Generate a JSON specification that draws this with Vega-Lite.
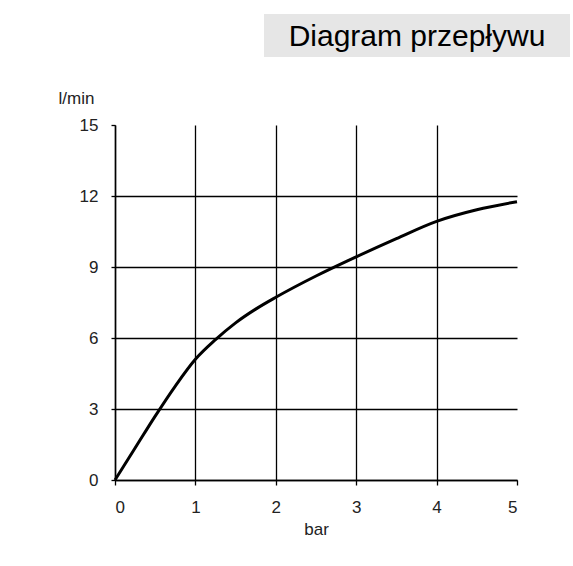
{
  "$schema": "https://vega.github.io/schema/vega-lite/v6.json",
  "padding": {"left": 58, "top": 14, "right": 0, "bottom": 0},
  "background": "white",
  "spacing": 32,
  "config": {
    "view": {"stroke": null},
    "font": "Liberation Sans",
    "concat": {"spacing": 0}
  },
  "vconcat": [
    {
      "spacing": 0,
      "hconcat": [
        {
          "width": 149,
          "height": 43,
          "data": {"values": []},
          "mark": "text"
        },
        {
          "width": 306,
          "height": 43,
          "view": {"fill": "#e6e6e6", "stroke": null},
          "data": {"values": [{"label": "Diagram przepływu"}]},
          "mark": {"type": "text", "fontSize": 30, "font": "Liberation Sans", "color": "black", "align": "center", "baseline": "middle", "dy": 1},
          "encoding": {"text": {"field": "label", "type": "nominal"}}
        }
      ]
    },
    {
      "width": 402,
      "height": 355,
      "data": {
        "values": [
          {"bar": 0, "flow": 0},
          {"bar": 0.25, "flow": 1.35},
          {"bar": 0.5, "flow": 2.7},
          {"bar": 0.75, "flow": 3.97},
          {"bar": 1, "flow": 5.1},
          {"bar": 1.25, "flow": 5.93},
          {"bar": 1.5, "flow": 6.64},
          {"bar": 1.75, "flow": 7.22},
          {"bar": 2, "flow": 7.72},
          {"bar": 2.5, "flow": 8.62},
          {"bar": 3, "flow": 9.43},
          {"bar": 3.5, "flow": 10.2},
          {"bar": 4, "flow": 10.93},
          {"bar": 4.5, "flow": 11.42},
          {"bar": 5, "flow": 11.76}
        ]
      },
      "mark": {"type": "line", "interpolate": "monotone", "color": "black", "strokeWidth": 3},
      "encoding": {
        "x": {
          "field": "bar",
          "type": "quantitative",
          "scale": {"domain": [0, 5], "nice": false},
          "axis": {
            "values": [0, 1, 2, 3, 4, 5],
            "title": "bar",
            "grid": true,
            "gridColor": "black",
            "gridWidth": 1.3,
            "gridOpacity": {"condition": {"test": "datum.value == 5", "value": 0}, "value": 1},
            "domainColor": "black",
            "domainWidth": 1.5,
            "tickColor": "black",
            "tickSize": 5,
            "tickWidth": 1.3,
            "labelFontSize": 17,
            "labelColor": "#222222",
            "labelPadding": 14,
            "titleFontSize": 17,
            "titleFontWeight": "normal",
            "titleColor": "#222222",
            "titlePadding": 6
          }
        },
        "y": {
          "field": "flow",
          "type": "quantitative",
          "scale": {"domain": [0, 15], "nice": false},
          "axis": {
            "values": [0, 3, 6, 9, 12, 15],
            "title": "l/min",
            "titleAngle": 0,
            "titleX": -39,
            "titleY": -27,
            "titleAlign": "center",
            "titleBaseline": "middle",
            "titleFontSize": 17,
            "titleFontWeight": "normal",
            "titleColor": "#222222",
            "grid": true,
            "gridColor": "black",
            "gridWidth": 1.3,
            "gridOpacity": {"condition": {"test": "datum.value == 15", "value": 0}, "value": 1},
            "domainColor": "black",
            "domainWidth": 1.5,
            "tickColor": "black",
            "tickSize": 4,
            "tickWidth": 1.3,
            "labelFontSize": 17,
            "labelColor": "#222222",
            "labelPadding": 13
          }
        }
      }
    }
  ]
}
